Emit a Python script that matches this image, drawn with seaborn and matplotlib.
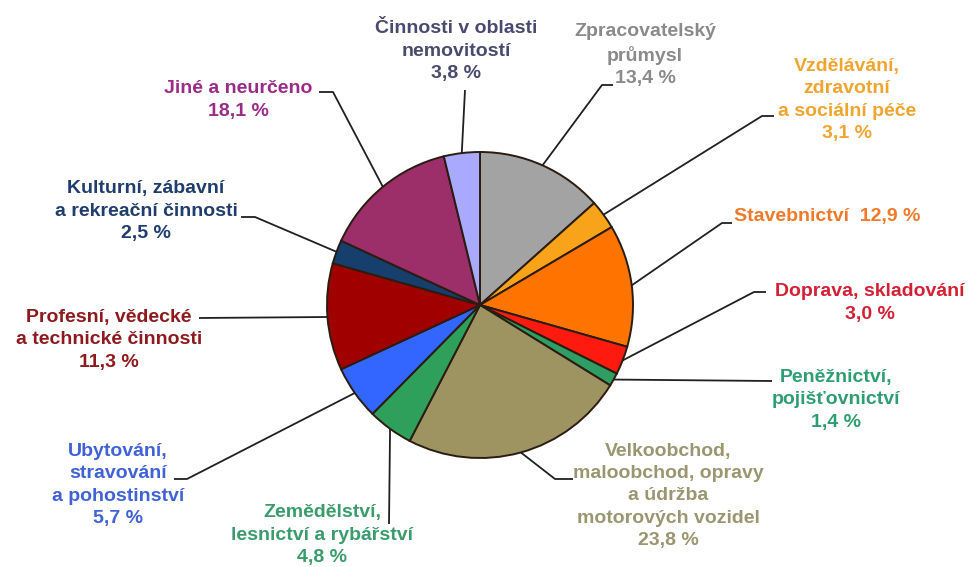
import matplotlib
matplotlib.use("Agg")
import matplotlib.pyplot as plt
import seaborn as sns
import numpy as np

# ---------------- data ----------------
categories = [
    "Zpracovatelský\nprůmysl",
    "Vzdělávání,\nzdravotní\na sociální péče",
    "Stavebnictví",
    "Doprava, skladování",
    "Peněžnictví,\npojišťovnictví",
    "Velkoobchod,\nmaloobchod, opravy\na údržba\nmotorových vozidel",
    "Zemědělství,\nlesnictví a rybářství",
    "Ubytování,\nstravování\na pohostinství",
    "Profesní, vědecké\na technické činnosti",
    "Kulturní, zábavní\na rekreační činnosti",
    "Jiné a neurčeno",
    "Činnosti v oblasti\nnemovitostí",
]
# printed percentages
pct_values = [13.4, 3.1, 12.9, 3.0, 1.4, 23.8, 4.8, 5.7, 11.3, 2.5, 18.1, 3.8]
# slice sizes as drawn in the picture (the "Jiné" slice is drawn as the
# remainder to 100 %, i.e. 14,3 %, although its label prints 18,1 %)
slice_sizes = [13.4, 3.1, 12.9, 3.0, 1.4, 23.8, 4.8, 5.7, 11.3, 2.5, 14.3, 3.8]

# ---------------- styles ----------------
slice_colors = ["#A3A3A3", "#F9A31B", "#FF7300", "#FF1A10", "#2E9E62",
                "#9E9462", "#2FA05C", "#3366FF", "#A00000", "#163F6E",
                "#9C2E69", "#A9A9FF"]
text_colors = ["#8A8A8A", "#F0A530", "#F07A2A", "#D42035", "#2E9E72",
               "#9A9670", "#3A9C6C", "#3F62D6", "#8E1A1E", "#1F3D6D",
               "#9B2C86", "#4A4A6E"]

W, H = 979, 567
# label block centres (x, y from top) and leader paths (points after the edge)
label_pos = [(645, 55), (847, 100), (827, 217), (870, 303), (836, 400),
             (668, 496), (322, 535), (118, 485), (109, 340), (146, 211),
             (238, 100), (456, 51)]
leader_pts = [
    [(602, 85), (613, 85)],
    [(762, 116), (774, 116)],
    [(722, 223), (732, 223)],
    [(754, 292), (766, 292)],
    [(772, 381)],
    [(555, 479), (573, 479)],
    [(389, 524)],
    [(187, 479), (174, 479)],
    [(199, 318)],
    [(255, 217), (241, 217)],
    [(333, 92), (319, 92)],
    [(465, 90)],
]

sns.set_theme(style="white")
plt.rcParams["font.family"] = ["Liberation Sans", "DejaVu Sans"]

fig = plt.figure(figsize=(W / 100, H / 100), dpi=100)
ax = fig.add_axes([0, 0, 1, 1])

cx, cy, r = 480, H - 305, 153
palette = sns.color_palette(slice_colors)
wedges, _ = ax.pie(slice_sizes, colors=palette, startangle=90,
                   counterclock=False, center=(cx, cy), radius=r,
                   wedgeprops=dict(edgecolor="#2a1c10", linewidth=1.4))

for i, w in enumerate(wedges):
    mid = np.deg2rad((w.theta1 + w.theta2) / 2)
    sx, sy = cx + r * np.cos(mid), cy + r * np.sin(mid)
    xs = [sx] + [p[0] for p in leader_pts[i]]
    ys = [sy] + [H - p[1] for p in leader_pts[i]]
    ax.plot(xs, ys, color="#202020", lw=1.3, zorder=0.5, solid_capstyle="butt")

    pct_txt = f"{pct_values[i]:.1f}".replace(".", ",") + " %"
    if categories[i] == "Stavebnictví":
        txt = categories[i] + "  " + pct_txt
    else:
        txt = categories[i] + "\n" + pct_txt
    lx, ly = label_pos[i]
    ax.text(lx, H - ly, txt, ha="center", va="center", fontsize=14,
            fontweight="bold", color=text_colors[i], linespacing=1.4)

ax.set_xlim(0, W)
ax.set_ylim(0, H)
ax.set_aspect("equal")
ax.axis("off")
fig.savefig("out.png", dpi=100, facecolor="white")
